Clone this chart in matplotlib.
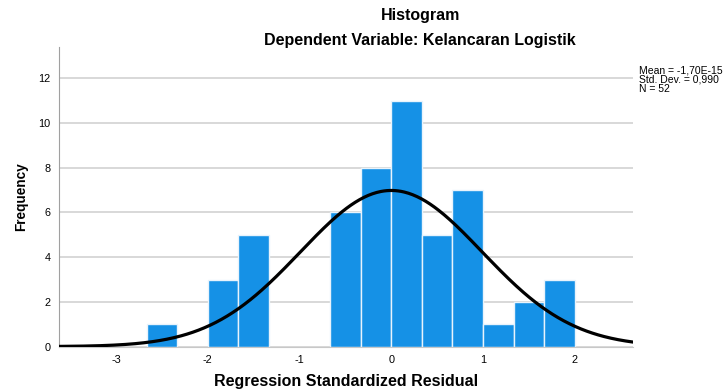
import numpy as np
import matplotlib
matplotlib.use("Agg")
import matplotlib.pyplot as plt

plt.rcParams['font.family'] = ['Liberation Sans', 'DejaVu Sans']
plt.rcParams['axes.unicode_minus'] = False

# histogram bins (width 1/3) and counts
bin_left = [-8/3, -2.0, -5/3, -2/3, -1/3, 0.0, 1/3, 2/3, 1.0, 4/3, 5/3]
counts = [1, 3, 5, 6, 8, 11, 5, 7, 1, 2, 3]
bin_width = 1/3

mean = -1.70e-15
std = 0.990
n = 52

fig = plt.figure(figsize=(7.23, 3.89), dpi=100)
ax = fig.add_axes([0.0816, 0.109, 0.7935, 0.77])

ax.bar(bin_left, counts, width=bin_width, align='edge',
       color='#1591e6', edgecolor='#e8f3fc', linewidth=1.0, zorder=2)

xs = np.linspace(-3.62, 2.63, 400)
pdf = np.exp(-0.5 * ((xs - mean) / std) ** 2) / (std * np.sqrt(2 * np.pi))
ax.plot(xs, n * bin_width * pdf, color='black', linewidth=2.3, zorder=3)

ax.set_xlim(-3.62, 2.63)
ax.set_ylim(0, 13.4)
ax.set_xticks([-3, -2, -1, 0, 1, 2])
ax.set_yticks([0, 2, 4, 6, 8, 10, 12])
ax.tick_params(length=0, labelsize=7.8, pad=6)
ax.yaxis.grid(True, color='#d6d6d6', linewidth=1.3, zorder=0)
ax.set_axisbelow(True)
for side in ['top', 'right']:
    ax.spines[side].set_visible(False)
ax.spines['left'].set_color('#a0a0a0')
ax.spines['bottom'].set_color('#c8c8c8')

ax.set_xlabel('Regression Standardized Residual', fontsize=11.5, fontweight='bold')
ax.xaxis.set_label_coords(0.5, -0.09)
ax.set_ylabel('Frequency', fontsize=9.8, fontweight='bold')
ax.yaxis.set_label_coords(-0.054, 0.5)

fig.text(0.581, 0.96, 'Histogram', ha='center', va='center', fontsize=11.5, fontweight='bold')
fig.text(0.581, 0.897, 'Dependent Variable: Kelancaran Logistik', ha='center', va='center',
         fontsize=11.5, fontweight='bold')

fig.text(0.884, 0.795, 'Mean = -1,70E-15\nStd. Dev. = 0,990\nN = 52',
         ha='left', va='center', fontsize=7.5, linespacing=0.95)

fig.savefig('out.png', dpi=100)
